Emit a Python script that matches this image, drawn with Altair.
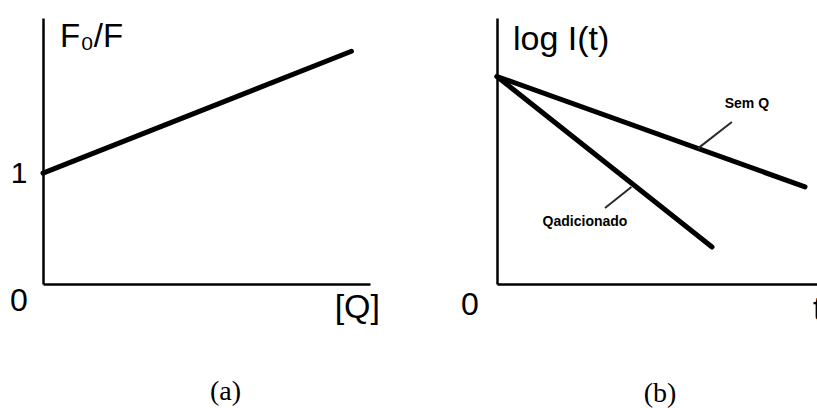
import altair as alt
import pandas as pd

# ---- panel (a): Stern-Volmer plot ----
q_values = [0.0, 1.0]
f0f_values = [1.0, 2.1]

# ---- panel (b): log I(t) decays ----
t_sem_q = [0.0, 0.9625]
logi_sem_q = [0.78, 0.365]
t_q_add = [0.0, 0.672]
logi_q_add = [0.78, 0.139]

# leader lines for the annotations in panel (b)
leader_sem_t = [0.734, 0.628]
leader_sem_y = [0.609, 0.51]
leader_add_t = [0.3375, 0.42]
leader_add_y = [0.286, 0.365]

# annotation labels in panel (b)
series_labels = ["Sem Q", "Qadicionado"]
series_label_t = [0.781, 0.275]
series_label_y = [0.677, 0.233]

# axis extents / tick labels / texts
xa_domain = [0, 1.06]
ya_domain = [0, 2.4]
ya_ticks = [1]
xb_domain = [0, 1.0]
yb_domain = [0, 1.0]
panel_titles = ["(a)", "(b)"]
ya_title = "F\u2080/F"
xa_title = "[Q]"
yb_title = "log I(t)"
xb_title = "t"
origin_label = "0"

SANS = "Liberation Sans, Arial, sans-serif"
NARROW = "Liberation Sans Narrow, Arial Narrow, Liberation Sans, sans-serif"
SERIF = "Liberation Serif, Times New Roman, serif"

AX_PLAIN = alt.Axis(labels=False, ticks=False, grid=False, title=None,
                    domainColor="black", domainWidth=2.5)
AX_YA = alt.Axis(values=ya_ticks, ticks=False, grid=False, title=None,
                 labelFontSize=30, labelFont=SANS, labelColor="black",
                 labelPadding=16, domainColor="black", domainWidth=2.5)

# ---------------- panel (a) ----------------
sxa = alt.Scale(domain=xa_domain, nice=False, zero=False)
sya = alt.Scale(domain=ya_domain, nice=False, zero=False)
enc_xa = dict(scale=sxa, axis=AX_PLAIN)
enc_ya = dict(scale=sya, axis=AX_YA)

df_a = pd.DataFrame({"x": q_values, "y": f0f_values})
line_a = alt.Chart(df_a).mark_line(color="black", strokeWidth=5, strokeCap="round").encode(
    x=alt.X("x:Q", **enc_xa),
    y=alt.Y("y:Q", **enc_ya),
)


def text_layer(x, y, label, ex, ey, **kw):
    df = pd.DataFrame({"x": [x], "y": [y], "label": [label]})
    return alt.Chart(df).mark_text(color="black", **kw).encode(
        x=alt.X("x:Q", **ex),
        y=alt.Y("y:Q", **ey),
        text="label:N",
    )


zero_a = text_layer(xa_domain[0], ya_domain[0], origin_label, enc_xa, enc_ya,
                    font=SANS, fontSize=32, align="center", baseline="middle", dx=-24, dy=17)
q_lab = text_layer(xa_domain[1], ya_domain[0], xa_title, enc_xa, enc_ya,
                   font=SANS, fontSize=34, align="right", baseline="middle", dx=10, dy=24)
f_lab = text_layer(xa_domain[0], ya_domain[1], ya_title, enc_xa, enc_ya,
                   font=SANS, fontSize=33, align="left", baseline="alphabetic", dx=17, dy=29)

chart_a = alt.layer(line_a, zero_a, q_lab, f_lab).properties(
    width=327, height=266,
    title=alt.TitleParams(text=panel_titles[0], orient="bottom", anchor="middle", frame="group",
                          font=SERIF, fontSize=28, fontWeight="normal", color="black",
                          dx=19, offset=53),
)

# ---------------- panel (b) ----------------
sxb = alt.Scale(domain=xb_domain, nice=False, zero=False)
syb = alt.Scale(domain=yb_domain, nice=False, zero=False)
enc_xb = dict(scale=sxb, axis=AX_PLAIN)
enc_yb = dict(scale=syb, axis=AX_PLAIN)

df_b = pd.concat([
    pd.DataFrame({"x": t_sem_q, "y": logi_sem_q, "s": series_labels[0]}),
    pd.DataFrame({"x": t_q_add, "y": logi_q_add, "s": series_labels[1]}),
])
lines_b = alt.Chart(df_b).mark_line(color="black", strokeWidth=5, strokeCap="round").encode(
    x=alt.X("x:Q", **enc_xb),
    y=alt.Y("y:Q", **enc_yb),
    detail="s:N",
)

df_lead = pd.concat([
    pd.DataFrame({"x": leader_sem_t, "y": leader_sem_y, "s": series_labels[0]}),
    pd.DataFrame({"x": leader_add_t, "y": leader_add_y, "s": series_labels[1]}),
])
leaders = alt.Chart(df_lead).mark_line(color="#2a2a2a", strokeWidth=2).encode(
    x=alt.X("x:Q", **enc_xb),
    y=alt.Y("y:Q", **enc_yb),
    detail="s:N",
)

df_lab = pd.DataFrame({"x": series_label_t, "y": series_label_y, "label": series_labels})
labels_b = alt.Chart(df_lab).mark_text(color="black", font=NARROW, fontSize=14,
                                       fontWeight="bold", align="center", baseline="middle").encode(
    x=alt.X("x:Q", **enc_xb),
    y=alt.Y("y:Q", **enc_yb),
    text="label:N",
)

zero_b = text_layer(xb_domain[0], yb_domain[0], origin_label, enc_xb, enc_yb,
                    font=SANS, fontSize=32, align="center", baseline="middle", dx=-27, dy=21)
t_lab = text_layer(xb_domain[1], yb_domain[0], xb_title, enc_xb, enc_yb,
                   font=SANS, fontSize=34, align="left", baseline="alphabetic", dx=-4, dy=36)
logi_lab = text_layer(xb_domain[0], yb_domain[1], yb_title, enc_xb, enc_yb,
                      font=SANS, fontSize=34, align="left", baseline="alphabetic", dx=16, dy=32)

chart_b = alt.layer(lines_b, leaders, labels_b, zero_b, t_lab, logi_lab).properties(
    width=320, height=266,
    title=alt.TitleParams(text=panel_titles[1], orient="bottom", anchor="middle", frame="group",
                          font=SERIF, fontSize=28, fontWeight="normal", color="black",
                          dx=3, offset=53),
)

chart = alt.hconcat(chart_a, chart_b, spacing=127, bounds="flush").properties(
    autosize=alt.AutoSizeParams(type="none"),
    padding={"left": 43, "top": 18, "right": 817 - 43, "bottom": 408 - 18},
    background="white",
).configure_view(stroke=None)

chart.save("out.html", embed_options={"renderer": "svg", "actions": False})
